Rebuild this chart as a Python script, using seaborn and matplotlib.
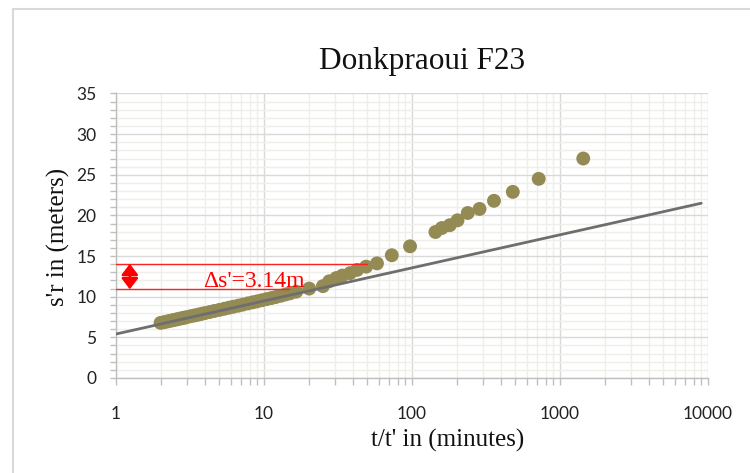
import matplotlib
matplotlib.use("Agg")
import matplotlib.pyplot as plt
from matplotlib.lines import Line2D
from matplotlib.ticker import FixedLocator, FixedFormatter, NullFormatter
import numpy as np
import pandas as pd
import seaborn as sns

# ---- data ----
t_ratio = [2.0, 2.1, 2.2, 2.3, 2.4, 2.5, 2.6, 2.7, 2.8, 2.9, 3.0, 3.2, 3.4, 3.6, 3.8,
           4.0, 4.3, 4.6, 5.0, 5.4, 5.8, 6.2, 6.7, 7.2, 7.8, 8.4, 9.0, 9.7, 10.4,
           11.2, 12.0, 13.0, 14.0, 15.0, 16.5, 20.2, 25.0, 27.6, 30.8, 33.8, 38.2,
           42.6, 49.0, 58.0, 73.0, 97.0, 144, 159, 180, 203, 238, 286, 358, 480,
           718, 1436]
s_resid = [6.78, 6.86, 6.94, 7.02, 7.09, 7.16, 7.23, 7.30, 7.36, 7.42, 7.48, 7.60,
           7.70, 7.80, 7.90, 7.99, 8.12, 8.24, 8.38, 8.52, 8.65, 8.77, 8.90, 9.03,
           9.18, 9.31, 9.43, 9.57, 9.70, 9.83, 9.96, 10.12, 10.28, 10.42, 10.62,
           11.0, 11.3, 11.9, 12.3, 12.6, 12.9, 13.3, 13.7, 14.1, 15.1, 16.2, 17.96,
           18.45, 18.8, 19.4, 20.3, 20.8, 21.8, 22.9, 24.5, 27.0]
fit_x = [1, 9000]
fit_y = [5.41, 21.5]
delta_upper = 14.05
delta_lower = 10.91
upper_end_x = 49.6
lower_end_x = 14.8
delta_label = "\u0394s'=3.14m"

title = "Donkpraoui F23"
xlabel = "t/t' in (minutes)"
ylabel = "s'r in (meters)"
x_major = [1, 10, 100, 1000, 10000]
x_major_labels = ["1", "10", "100", "1000", "10000"]
y_major = [0, 5, 10, 15, 20, 25, 30, 35]

df = pd.DataFrame({"t": t_ratio, "s": s_resid})
fit_df = pd.DataFrame({"t": fit_x, "s": fit_y})

sns.set_theme(style="white")
plt.rcParams["font.family"] = ["Liberation Serif", "DejaVu Serif"]

fig = plt.figure(figsize=(7.5, 4.73), dpi=100)
ax = fig.add_axes([116 / 750, 1 - 378 / 473, 592 / 750, 284.5 / 473])

ax.set_xscale("log")
ax.set_xlim(1, 10000)
ax.set_ylim(0, 35)

# grid
minor_x = [m * 10 ** e for e in range(0, 4) for m in range(2, 10)]
ax.xaxis.set_major_locator(FixedLocator(x_major))
ax.xaxis.set_major_formatter(FixedFormatter(x_major_labels))
ax.xaxis.set_minor_locator(FixedLocator(minor_x))
ax.xaxis.set_minor_formatter(NullFormatter())
ax.yaxis.set_major_locator(FixedLocator(y_major))
ax.yaxis.set_minor_locator(FixedLocator([v for v in range(0, 36) if v % 5 != 0]))
ax.grid(which="minor", color="#efeee9", lw=1.0, zorder=0)
ax.grid(which="major", color="#d9d9d9", lw=1.0, zorder=0)
ax.set_axisbelow(True)

sns.scatterplot(data=df, x="t", y="s", ax=ax, color="#948a54", s=100,
                edgecolor="none", zorder=3, legend=False)
sns.lineplot(data=fit_df, x="t", y="s", ax=ax, color="#6e6e6e", lw=2.0,
             zorder=4, legend=False)

# delta annotation
ax.plot([1, upper_end_x], [delta_upper, delta_upper], color="#ff2020", lw=1.0, zorder=5)
ax.plot([1, lower_end_x], [delta_lower, delta_lower], color="#ff2020", lw=1.0, zorder=5)
ax.annotate("", xy=(1.24, delta_upper), xytext=(1.24, delta_lower),
            arrowprops=dict(arrowstyle="<|-|>,head_width=0.42,head_length=0.55",
                            color="#ff0000", lw=1.8,
                            mutation_scale=12, shrinkA=0, shrinkB=0), zorder=6)
ax.text(3.85, 11.2, delta_label, color="#ff0000", fontsize=17, va="baseline",
        ha="left", family=["Liberation Serif", "DejaVu Serif"], zorder=6)

# spines / ticks
for side in ["top", "right"]:
    ax.spines[side].set_visible(False)
for side in ["left", "bottom"]:
    ax.spines[side].set_color("#bfbfbf")
    ax.spines[side].set_linewidth(1.0)
ax.tick_params(axis="x", which="both", direction="out", length=5, width=1,
               color="#bfbfbf", bottom=True, pad=15)
ax.tick_params(axis="y", which="both", direction="out", length=4, width=1,
               color="#bfbfbf", left=True, pad=10)
for lab in ax.get_xticklabels() + ax.get_yticklabels():
    lab.set_family(["Lato", "DejaVu Sans"])
    lab.set_fontsize(12.5)
    lab.set_color("#222222")

ax.set_xlabel(xlabel, fontsize=18, color="#111111", va="center", ha="center")
ax.xaxis.set_label_coords((448 - 116) / 592, (378 - 440) / 284.5)
ax.set_ylabel(ylabel, fontsize=18, color="#111111", va="center", ha="center")
ax.yaxis.set_label_coords((58 - 116) / 592, (378 - 237) / 284.5)

fig.text(422 / 750, 1 - 62 / 473, title, fontsize=22.5, ha="center", va="center",
         color="#111111")

# chart border
fig.add_artist(Line2D([13 / 750, 13 / 750], [0, 1 - 9 / 473], color="#d9d9d9", lw=1.5))
fig.add_artist(Line2D([13 / 750, 1], [1 - 9 / 473, 1 - 9 / 473], color="#d9d9d9", lw=1.5))

fig.savefig("out.png", dpi=100)
